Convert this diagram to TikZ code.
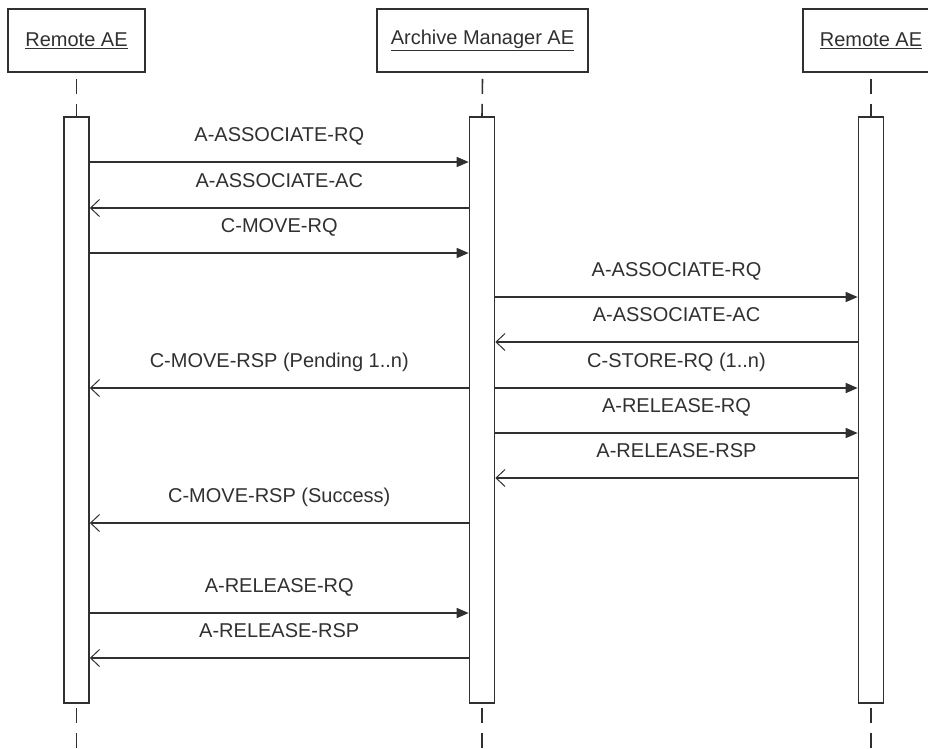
\documentclass[tikz,border=0pt]{standalone}
\usepackage{fontspec}
\setmainfont{Liberation Sans}
\usetikzlibrary{arrows.meta, positioning}
\definecolor{ink}{HTML}{303030}

\begin{document}
\begin{tikzpicture}[
    x=1pt, y=-1pt,
    font=\fontsize{20}{24}\selectfont,
    actor/.style={draw=ink, line width=1.6pt, minimum height=63pt, text=ink, inner sep=0pt},
    bar/.style={draw=ink, line width=1.6pt, minimum width=25pt, minimum height=586pt, inner sep=0pt},
    life/.style={draw=ink, line width=1.6pt, dash pattern=on 15pt off 10pt},
    req/.style={draw=ink, line width=1.4pt, -{Triangle[length=12pt, width=10pt]}},
    rsp/.style={draw=ink, line width=1.4pt, -{Straight Barb[length=9pt, width=17pt, line width=1pt]}},
    msg/.style={midway, anchor=base, yshift=21pt, text=ink, inner sep=0pt}
]
\clip (0,0) rectangle (928,748);
% actors
\node[actor, minimum width=137pt] (ra) at (76.5,40.5) {\underline{Remote AE}};
\node[actor, minimum width=211pt] (am) at (482.5,40.5) {\underline{Archive Manager AE}};
\node[actor, minimum width=136pt] (rb) at (871,40.5) {\underline{Remote AE}};
% activation bars
\node[bar] (ba) at (76.5,410) {};
\node[bar] (bm) at (482,410) {};
\node[bar] (br) at (871,410) {};
% lifelines
\draw[life] ([yshift=-6pt]ra.south) -- (ba.north);
\draw[life] ([yshift=-6pt]am.south) -- (bm.north);
\draw[life] ([yshift=-6pt]rb.south) -- (br.north);
\draw[life] ([yshift=-4pt]ba.south) -- ++(0,45);
\draw[life] ([yshift=-4pt]bm.south) -- ++(0,45);
\draw[life] ([yshift=-4pt]br.south) -- ++(0,45);
% messages
\draw[req] (ba.east |- 0,162) -- node[msg]{A-ASSOCIATE-RQ} (bm.west |- 0,162);
\draw[rsp] (bm.west |- 0,208) -- node[msg]{A-ASSOCIATE-AC} (ba.east |- 0,208);
\draw[req] (ba.east |- 0,253) -- node[msg]{C-MOVE-RQ} (bm.west |- 0,253);
\draw[req] (bm.east |- 0,297) -- node[msg]{A-ASSOCIATE-RQ} (br.west |- 0,297);
\draw[rsp] (br.west |- 0,342) -- node[msg]{A-ASSOCIATE-AC} (bm.east |- 0,342);
\draw[rsp] (bm.west |- 0,388) -- node[msg]{C-MOVE-RSP (Pending 1..n)} (ba.east |- 0,388);
\draw[req] (bm.east |- 0,388) -- node[msg]{C-STORE-RQ (1..n)} (br.west |- 0,388);
\draw[req] (bm.east |- 0,433) -- node[msg]{A-RELEASE-RQ} (br.west |- 0,433);
\draw[rsp] (br.west |- 0,478) -- node[msg]{A-RELEASE-RSP} (bm.east |- 0,478);
\draw[rsp] (bm.west |- 0,523) -- node[msg]{C-MOVE-RSP (Success)} (ba.east |- 0,523);
\draw[req] (ba.east |- 0,613) -- node[msg]{A-RELEASE-RQ} (bm.west |- 0,613);
\draw[rsp] (bm.west |- 0,658) -- node[msg]{A-RELEASE-RSP} (ba.east |- 0,658);
\end{tikzpicture}
\end{document}
